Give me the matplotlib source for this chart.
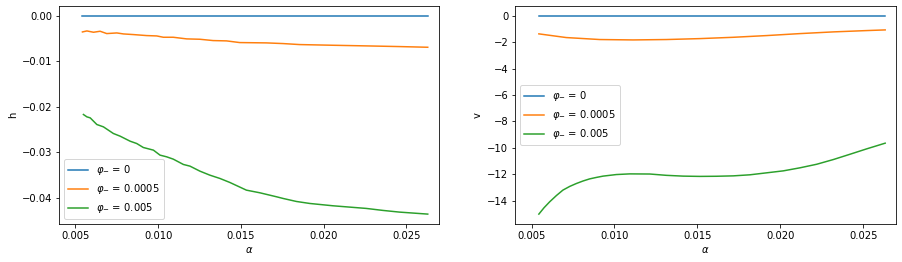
import matplotlib
matplotlib.use("Agg")
import matplotlib.pyplot as plt

# left panel: h vs alpha
h_x_orange = [0.00542, 0.00569, 0.00609, 0.00649, 0.00689, 0.00750, 0.00790, 0.00850,
              0.00930, 0.00991, 0.01031, 0.01091, 0.01172, 0.01252, 0.01332, 0.01413,
              0.01493, 0.01654, 0.01755, 0.01855, 0.02056, 0.02257, 0.02458, 0.02629]
h_orange = [-0.00352, -0.00330, -0.00359, -0.00337, -0.00388, -0.00374, -0.00396, -0.00410,
            -0.00432, -0.00440, -0.00469, -0.00469, -0.00505, -0.00513, -0.00542, -0.00549,
            -0.00586, -0.00593, -0.00608, -0.00630, -0.00645, -0.00659, -0.00674, -0.00689]

h_x_green = [0.00548, 0.00569, 0.00589, 0.00629, 0.00669, 0.00729, 0.00770, 0.00830,
             0.00870, 0.00910, 0.00971, 0.01011, 0.01051, 0.01091, 0.01152, 0.01192,
             0.01252, 0.01312, 0.01373, 0.01433, 0.01533, 0.01614, 0.01715, 0.01755,
             0.01835, 0.01916, 0.02056, 0.02257, 0.02358, 0.02458, 0.02629]
h_green = [-0.02168, -0.02220, -0.02242, -0.02388, -0.02440, -0.02586, -0.02645, -0.02755,
           -0.02806, -0.02894, -0.02952, -0.03062, -0.03099, -0.03150, -0.03267, -0.03304,
           -0.03414, -0.03502, -0.03575, -0.03663, -0.03832, -0.03890, -0.03978, -0.04015,
           -0.04081, -0.04125, -0.04176, -0.04234, -0.04278, -0.04315, -0.04359]

# right panel: v vs alpha
v_x_orange = [0.00544, 0.00709, 0.00911, 0.01112, 0.01313, 0.01514, 0.01716, 0.01917,
              0.02118, 0.02320, 0.02521, 0.02632]
v_orange = [-1.36, -1.64, -1.79, -1.82, -1.79, -1.72, -1.62, -1.49, -1.34, -1.21, -1.11, -1.06]

v_x_green = [0.00544, 0.00575, 0.00609, 0.00650, 0.00689, 0.00730, 0.00770, 0.00810,
             0.00850, 0.00890, 0.00931, 0.01011, 0.01092, 0.01213, 0.01313, 0.01414,
             0.01514, 0.01615, 0.01716, 0.01816, 0.01917, 0.02018, 0.02118, 0.02219,
             0.02320, 0.02420, 0.02521, 0.02632]
v_green = [-15.03, -14.55, -14.10, -13.62, -13.21, -12.93, -12.71, -12.52,
           -12.36, -12.25, -12.15, -12.03, -11.98, -11.99, -12.09,
           -12.15, -12.17, -12.16, -12.13, -12.05, -11.90, -11.75, -11.52, -11.25,
           -10.89, -10.49, -10.08, -9.65]

zero_x = [0.00542, 0.02632]
zero_y = [0, 0]

labels = [r"$\varphi_{-}$ = 0", r"$\varphi_{-}$ = 0.0005", r"$\varphi_{-}$ = 0.005"]
xlim = (0.00402, 0.02697)

fig = plt.figure(figsize=(902 / 72, 262 / 72), dpi=72)
ax1 = fig.add_axes([0.0657, 0.145, 0.421, 0.832])
ax2 = fig.add_axes([0.5713, 0.145, 0.422, 0.832])

ax1.plot(zero_x, zero_y, label=labels[0])
ax1.plot(h_x_orange, h_orange, label=labels[1])
ax1.plot(h_x_green, h_green, label=labels[2])
ax1.set_xlim(*xlim)
ax1.set_xlabel(r"$\alpha$")
ax1.set_ylabel("h")
ax1.legend(loc="lower left")

ax2.plot(zero_x, zero_y, label=labels[0])
ax2.plot(v_x_orange, v_orange, label=labels[1])
ax2.plot(v_x_green, v_green, label=labels[2])
ax2.set_xlim(*xlim)
ax2.set_xlabel(r"$\alpha$")
ax2.set_ylabel("v")
ax2.legend(loc="center left")

fig.savefig("out.png", dpi=72, facecolor="white")
